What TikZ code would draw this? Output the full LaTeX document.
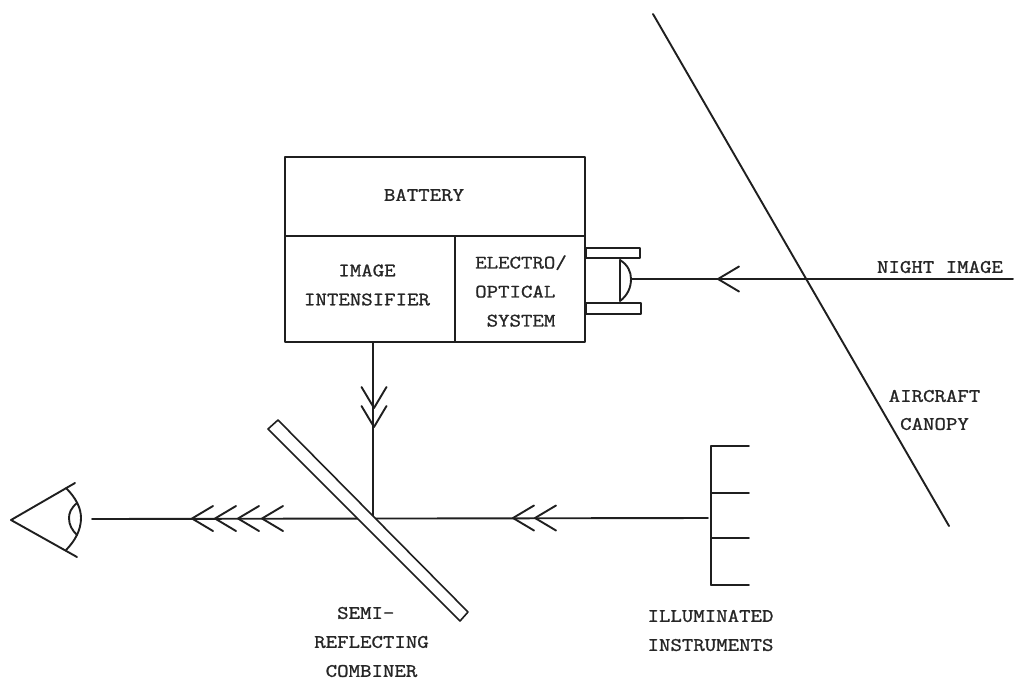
\documentclass[tikz,border=0pt]{standalone}
\usepackage{fontspec}
\setmonofont[FakeStretch=1.17,FakeBold=1.2]{Latin Modern Mono}
\usepackage{tikz}
\tikzset{
  x=1pt,y=-1pt,
  ln/.style={draw=black!88,line width=1.9pt,line cap=round,line join=round},
  lbl/.style={inner sep=0pt,align=center,text=black!85,font=\ttfamily\fontsize{19}{29}\selectfont},
  compart/.style={ln,fill=white,inner sep=0pt,outer sep=0pt,anchor=north west},
  chev/.pic={\draw[ln] (21,-12.5) -- (0,0) -- (21,12.5);}
}
\begin{document}
\begin{tikzpicture}
\useasboundingbox (0,0) rectangle (1020,697);
\fill[white] (0,0) rectangle (1020,697);
% housing
\node[compart,minimum width=300pt,minimum height=79pt] (bat) at (285,157) {};
\node[compart,minimum width=170pt,minimum height=106pt] (int) at (285,236) {};
\node[compart,minimum width=130pt,minimum height=106pt] (opt) at (455,236) {};
\node[lbl] (batT) at (424,195) {BATTERY};
\node[lbl] (intT) at (367,285) {IMAGE\\INTENSIFIER};
\node[lbl,align=left,anchor=west] (optT) at (475,291) {ELECTRO/\\OPTICAL\\\ SYSTEM};
% lens barrels
\node[compart,minimum width=54pt,minimum height=10pt] (tubeA) at (586,248) {};
\node[compart,minimum width=55pt,minimum height=11pt] (tubeB) at (586,303) {};
\coordinate (lensTop) at (620,260);
\coordinate (lensBot) at (620,301);
\coordinate (lensFront) at (631,279);
\draw[ln] (lensTop) -- (lensBot);
\draw[ln] (lensTop) .. controls (628,265) and (631,272) .. (lensFront) .. controls (631,287) and (628,295) .. (lensBot);
% canopy and night image
\coordinate (canA) at (653,14);
\coordinate (canB) at (949,526);
\draw[ln] (canA) -- (canB);
\coordinate (nightEnd) at (1013,279);
\draw[ln] (nightEnd) -- (lensFront);
\pic at (718,279) {chev};
\node[lbl] (nightT) at (940,267) {NIGHT IMAGE};
\node[lbl] (canT) at (934.5,410) {AIRCRAFT\\[-1pt]CANOPY};
% beams
\coordinate (hit) at (373,518);
\coordinate (eyeEnd) at (92,519);
\draw[ln] (373,342) -- (hit);
\draw[ln] (708,518) -- (eyeEnd);
\pic[rotate=90] at (374,408) {chev};
\pic[rotate=90] at (374,427) {chev};
% combiner
\draw[ln,line width=1.6pt,fill=white] (278,420) -- (268,429) -- (460,621) -- (468,612) -- cycle;
% instruments
\coordinate (instA) at (711,446);
\coordinate (instB) at (711,585);
\draw[ln] (instA) -- (instB);
\draw[ln] (instA) -- (749,446);
\draw[ln] (711,493) -- (749,493);
\draw[ln] (711,538) -- (749,538);
\draw[ln] (instB) -- (749,585);
% chevrons
\pic at (192,518.5) {chev};
\pic at (215,518.5) {chev};
\pic at (238,518.5) {chev};
\pic at (262,518.5) {chev};
\pic at (513,518) {chev};
\pic at (535,518) {chev};
% eye
\draw[ln] (75,483) -- (11,520) -- (77,557);
\draw[ln] (66,488) .. controls (76,498) and (81,508) .. (81,518) .. controls (81,530) and (75,541) .. (66,550);
\draw[ln] (77,503) .. controls (71,508) and (69,513) .. (69,518) .. controls (69,525) and (72,530) .. (77,535);
% labels
\node[lbl] (semiT) at (371.5,642) {SEMI-\phantom{X}\\REFLECTING\\COMBINER};
\node[lbl] (illT) at (710.5,630.5) {ILLUMINATED\\INSTRUMENTS};
\end{tikzpicture}
\end{document}
